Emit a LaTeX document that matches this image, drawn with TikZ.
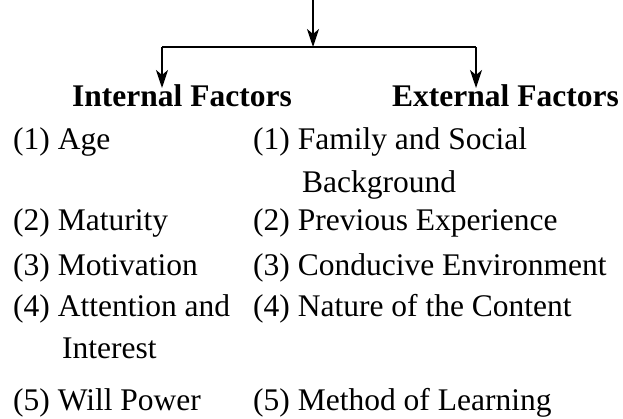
\documentclass[tikz,border=0pt]{standalone}
\usepackage{fontspec}
\setmainfont{Liberation Serif}
\usetikzlibrary{arrows.meta}
\begin{document}
\begin{tikzpicture}[x=1pt,y=-1pt,
  txt/.style={anchor=base west,inner sep=0pt,font=\fontsize{31.5}{36}\selectfont},
  head/.style={anchor=base west,inner sep=0pt,font=\fontsize{31.5}{36}\selectfont\bfseries},
  link/.style={line width=2pt},
  arr/.style={link,-{Stealth[length=18pt,width=12pt,inset=5pt]}}]
\useasboundingbox (0,0) rectangle (623,418);
% connectors
\coordinate (top) at (313,0);
\coordinate (mid) at (313,47);
\coordinate (L) at (162,47);
\coordinate (R) at (476,47);
\coordinate (tipL) at (162,88);
\coordinate (tipR) at (476,88);
\draw[arr] (top) -- (mid);
\draw[link] (L) -- (R);
\draw[arr] (L) -- (tipL);
\draw[arr] (R) -- (tipR);
% headings
\node[head] (hi) at (72,106) {Internal Factors};
\node[head] (he) at (392,106) {External Factors};
% internal factors
\node[txt] (i1) at (13,149) {(1) Age};
\node[txt] (i2) at (13,230) {(2) Maturity};
\node[txt] (i3) at (13,275) {(3) Motivation};
\node[txt] (i4) at (13,316) {(4) Attention and};
\node[txt] (i4b) at (62,358) {Interest};
\node[txt] (i5) at (13,410) {(5) Will Power};
% external factors
\node[txt] (e1) at (253,149) {(1) Family and Social};
\node[txt] (e1b) at (302,192) {Background};
\node[txt] (e2) at (253,230) {(2) Previous Experience};
\node[txt] (e3) at (253,275) {(3) Conducive Environment};
\node[txt] (e4) at (253,316) {(4) Nature of the Content};
\node[txt] (e5) at (253,410) {(5) Method of Learning};
\end{tikzpicture}
\end{document}
